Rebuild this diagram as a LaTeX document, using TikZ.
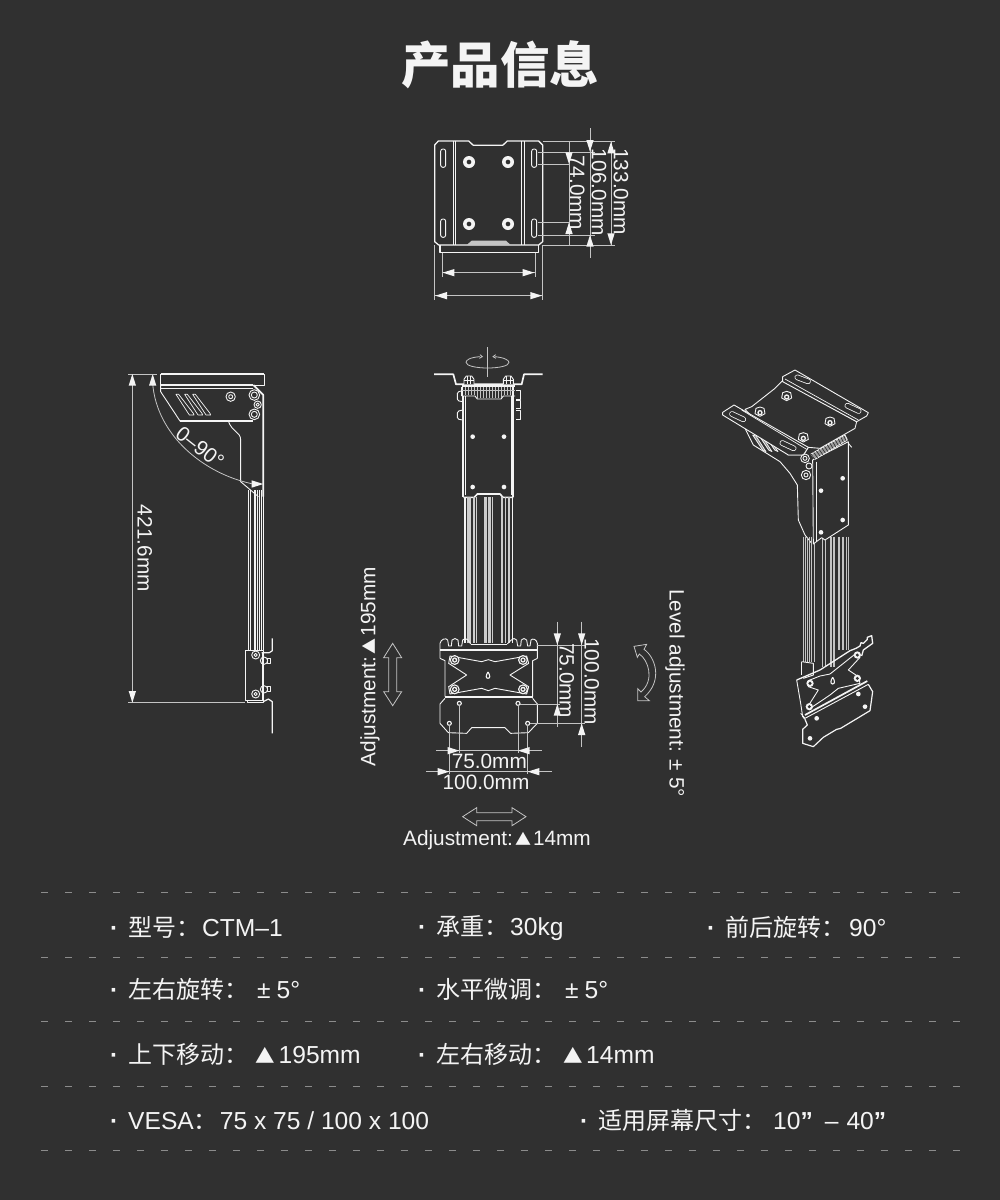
\documentclass[tikz,border=0pt]{standalone}
\usepackage{fontspec}
\setmainfont{Liberation Sans}
\newfontfamily\cjk{Noto Sans CJK SC}
\definecolor{bgc}{HTML}{303030}
\definecolor{wh}{HTML}{F4F4F4}
\definecolor{gr}{HTML}{C4C4C4}
\definecolor{dsh}{HTML}{8C8C8C}
\tikzset{
  ln/.style={draw=wh,line width=.9pt,line join=round},
  thk/.style={draw=wh,line width=1.7pt,line join=round},
  thn/.style={draw=wh,line width=.7pt,line join=round},
  dimln/.style={draw=gr,line width=.8pt},
  outl/.style={draw=gr,line width=.8pt,line join=miter,fill=bgc},
  lab/.style={text=wh,inner sep=0pt,font=\fontsize{20.8}{24}\selectfont},
  spec/.style={text=wh,inner sep=0pt,anchor=base west,font=\fontsize{24.6}{28}\selectfont},
  sepln/.style={draw=dsh,line width=.8pt,dash pattern=on 7.3pt off 16.7pt},
  zm/.style={x=.33333pt,y=-.33333pt}
}
% arrow tips, in zoom units (3 units = 1 px)
\def\ad(#1,#2){\fill[wh] (#1,#2)--++(-11,-35)--++(22,0)--cycle;}
\def\au(#1,#2){\fill[wh] (#1,#2)--++(-11,35)--++(22,0)--cycle;}
\def\al(#1,#2){\fill[wh] (#1,#2)--++(35,-11)--++(0,22)--cycle;}
\def\ar(#1,#2){\fill[wh] (#1,#2)--++(-35,-11)--++(0,22)--cycle;}
\def\hole(#1,#2){\fill[wh] (#1,#2) circle[radius=7];}
\def\slotline(#1)(#2){\draw[wh,line width=5.6pt,line cap=round] (#1)--(#2); \draw[bgc,line width=4pt,line cap=round] (#1)--(#2);}
\newcommand\TRI[1]{{\cjk\fontsize{#1}{#1}\selectfont ▲}}
\newcommand\cj[1]{{\cjk\fontsize{24}{28}\selectfont #1}}
\begin{document}
\begin{tikzpicture}[x=1pt,y=-1pt]
\useasboundingbox (0,0) rectangle (1000,1200);
\fill[bgc] (0,0) rectangle (1000,1200);

\node[text=wh,inner sep=0pt,font=\cjk\bfseries\fontsize{49.5}{54}\selectfont] (title) at (500,65) {产品信息};

%% ---------- top view ----------
\begin{scope}[shift={(420,120)},zm]
 \draw[thk,line width=1.2pt] (60,375)--(60,398)--(355,398)--(355,375);
 \draw[ln,line width=1.3pt] (55,63)--(146,63)--(160,76)--(248,76)--(262,63)--(356,63)--(368,75)--(368,365)--(356,375)--(56,375)--(44,365)--(44,75)--cycle;
 \foreach \x in {100,107,303,313} {\draw[ln] (\x,63)--(\x,375);}
 \foreach \x in {62,335} {\foreach \y in {87,297} {\draw[ln,rounded corners=2.2pt] (\x,\y) rectangle (\x+15,\y+55);}}
 \foreach \x in {147,264} {\foreach \y in {126,312} {\fill[wh] (\x,\y) circle[radius=18]; \fill[bgc] (\x,\y) circle[radius=7];}}
 \fill[gr] (140,375)--(155,362)--(258,362)--(272,375)--cycle;
 % dimensions
 \draw[dimln] (368,63)--(586,63);
 \draw[dimln] (368,375)--(586,375);
 \draw[dimln] (353,97)--(525,97);
 \draw[dimln] (353,132)--(447,132);
 \draw[dimln] (353,307)--(447,307);
 \draw[dimln] (353,345)--(525,345);
 \draw[dimln] (447,63)--(447,375);
 \draw[dimln] (510,25)--(510,415);
 \draw[dimln] (573,63)--(573,375);
 \ad(510,95) \au(510,345)
 \au(573,65) \ad(573,375)
 \ad(447,132) \au(447,307)
 \node[lab,rotate=-90] (d133) at (603,215) {133.0mm};
 \node[lab,rotate=-90] (d106) at (537,217) {106.0mm};
 \node[lab,rotate=-90] (d74) at (472,218) {74.0mm};
 \draw[dimln] (66,398)--(66,470);
 \draw[dimln] (345,398)--(345,470);
 \draw[dimln] (44,375)--(44,540);
 \draw[dimln] (368,375)--(368,540);
 \draw[dimln] (66,458)--(345,458);
 \draw[dimln] (44,527)--(368,527);
 \al(68,458) \ar(343,458)
 \al(46,527) \ar(366,527)
\end{scope}

%% ---------- side view ----------
\begin{scope}[shift={(120,360)},zm]
 \draw[ln] (122,42) rectangle (433,75);
 \draw[thk] (122,43)--(433,43);
 \draw[thk] (122,75)--(400,75);
 \draw[ln] (122,85)--(400,85);
 \draw[ln] (122,75)--(122,95)--(180,183)--(325,183);
 \draw[thk,line width=1.2pt] (180,183)--(400,183);
 \draw[ln] (325,183) .. controls (335,215) and (362,215) .. (362,240)--(362,365)--(415,410);
 \draw[thk] (400,75)--(430,105)--(430,410);
 \foreach \x/\y in {403/105,403/163}{\draw[ln] (\x,\y) circle[radius=16]; \draw[ln] (\x,\y) circle[radius=9];}
 \draw[ln] (413,134) circle[radius=11]; \draw[ln] (413,134) circle[radius=5];
 \draw[ln] (332,110) circle[radius=14]; \draw[ln] (332,110) circle[radius=6];
 \foreach \d in {0,26,50}
   {\draw[thn] (168+\d,103)--(176+\d,103)--(220+\d,160)--(222+\d,165)--(208+\d,165)--cycle;}
 % arc
 \draw[dimln] (98,70) .. controls (110,225) and (250,340) .. (395,371);
 \au(98,42) \ar(430,372)
 \node[lab,rotate=-38] (ang) at (240,262) {0–90°};
 % dim line
 \draw[dimln] (37,42)--(37,1028);
 \draw[dimln] (25,42)--(110,42);
 \au(37,42)
 \node[lab,rotate=-90] (d421) at (74,565) {421.6mm};
 % pole
 \foreach \x in {385,392,405,412,418,425,430} {\draw[ln,line width=1.1pt] (\x,390)--(\x,870);}
\end{scope}
\begin{scope}[shift={(120,620)},zm]
 \draw[dimln] (25,248)--(375,248);
 \ad(37,248)
 \draw[ln,fill=bgc] (376,90) rectangle (430,240);
 \draw[ln] (382,240)--(382,248)--(430,248)--(430,240);
 \draw[thk] (430,95)--(430,240);
 \draw[ln] (407,105) circle[radius=12]; \draw[ln] (407,105) circle[radius=5];
 \draw[ln] (407,222) circle[radius=12]; \draw[ln] (407,222) circle[radius=5];
 \draw[ln,line width=1.2pt] (457,55)--(457,92)--(448,98)--(425,98);
 \draw[ln,line width=1.2pt] (430,245)--(445,237)--(457,245)--(457,340);
 \draw[ln] (432,122) circle[radius=11]; \draw[ln] (432,208) circle[radius=11];
 \draw[ln] (443,115) rectangle (452,130); \draw[ln] (443,200) rectangle (452,215);
\end{scope}

%% ---------- front view, upper ----------
\begin{scope}[shift={(420,340)},zm]
 \draw[dimln] (203,22)--(203,110);
 \draw[dimln] (180,50) .. controls (150,52) and (138,60) .. (138,67) .. controls (138,78) and (170,84) .. (203,84) .. controls (236,84) and (267,78) .. (267,67) .. controls (267,60) and (250,52) .. (224,50);
 \draw[dimln] (180,44)--(187,50)--(178,55);
 \draw[dimln] (227,44)--(219,50)--(228,55);
 \draw[thk] (42,103)--(100,103)--(108,133)--(305,133)--(312,103)--(368,103);
 \foreach \x in {147,265}{
   \draw[ln,fill=bgc] (\x-15,133)--(\x-15,118)--(\x-8,108)--(\x+8,108)--(\x+15,118)--(\x+15,133);
   \draw[thn] (\x-15,120)--(\x+15,120);
   \draw[thn] (\x-5,108)--(\x-5,133); \draw[thn] (\x+5,108)--(\x+5,133);
 }
 \foreach \x/\y/\h in {112/152/33,112/210/30}
   {\draw[ln,rounded corners=1.5pt] (\x+16,\y)--(\x,\y+4)--(\x,\y+\h-3)--(\x+16,\y+\h);}
 \foreach \x/\y/\h in {288/152/26,288/182/24,288/210/28}
   {\draw[ln] (\x,\y)--(\x+14,\y)--(\x+14,\y+\h)--(\x,\y+\h);}
 \draw[thk,line width=2pt] (130,168)--(130,472);
 \draw[thk,line width=2pt] (280,140)--(280,472);
 \draw[thn] (137,168)--(137,465);
 \draw[thn] (273,168)--(273,465);
 \draw[thk,line width=2pt] (125,140)--(125,168);
 \draw[thk] (125,138)--(285,138);
 \draw[ln] (125,168)--(165,168)--(172,177)--(243,177)--(250,168)--(285,168);
 \foreach \x in {135,144,...,275} {\draw[gr,line width=.8pt] (\x,142)--(\x,{\x>165&&\x<250?174:166});}
 \draw[gr,line width=.8pt] (125,150)--(285,150);
 \foreach \x in {158,252} {\foreach \y in {290,441} {\hole(\x,\y)}}
 \draw[wh,line width=1.6pt,line join=round] (130,472)--(163,472)--(172,462)--(240,462)--(249,472)--(280,472);
\end{scope}

%% ---------- front view, pole and head ----------
\begin{scope}[shift={(350,560)},zm]
 \foreach \a/\b in {351/364,369/375,379/382,403/410,414/422,425/430,452/460,465/469,473/480}
   {\fill[wh!80!bgc] (\a,-189) rectangle (\b,250);}
 \draw[thk,line width=1.3pt] (345,-189)--(345,250);
 \draw[thk,line width=1.3pt] (487,-189)--(487,250);
 % head
 \draw[ln] (270,295)--(270,250) .. controls (272,238) and (288,232) .. (293,240) -- (296,258)--(304,258)--(306,240) .. controls (310,234) and (320,234) .. (324,240)--(326,258)--(335,258)--(338,240) .. controls (342,234) and (350,234) .. (354,240)--(362,252);
 \draw[ln] (562,295)--(562,250) .. controls (560,238) and (548,234) .. (543,240) -- (540,258)--(533,258)--(530,240) .. controls (526,234) and (518,234) .. (514,240)--(512,258)--(503,258)--(500,240) .. controls (496,234) and (488,234) .. (484,240)--(472,252);
 \draw[thk,line width=1.5pt] (270,270)--(562,270);
 \draw[ln] (362,252)--(472,252);
 \draw[ln] (270,295)--(285,302)--(285,410);
 \draw[ln] (562,295)--(548,302)--(548,410);
 \draw[thk] (285,412)--(548,412);
 \draw[ln] (300,288)--(395,305)--(415,299)--(435,305)--(530,288)--(536,310)--(480,345)--(536,380)--(530,402)--(435,385)--(415,392)--(395,385)--(300,402)--(296,380)--(350,345)--(296,310)--cycle;
 \draw[ln,line width=1.1pt] (414,336) .. controls (420,345) and (422,355) .. (414,355) .. controls (406,355) and (408,345) .. (414,336);
 \foreach \x in {314,519} {\foreach \y in {300,388}{\fill[wh] (\x,\y) circle[radius=15]; \fill[bgc] (\x,\y) circle[radius=11]; \fill[wh] (\x,\y) circle[radius=8]; \fill[bgc] (\x,\y) circle[radius=4];}}
 \draw[ln] (285,415)--(270,432)--(270,490)--(295,518)--(350,520)--(365,503)--(465,503)--(482,520)--(535,518)--(562,490)--(562,432)--(548,415);
 \foreach \x/\y in {328/430,504/430,298/490,533/490} {\draw[ln,line width=1.1pt] (\x,\y) circle[radius=6];}
 % dimensions
 \draw[dimln] (560,255)--(705,255);
 \draw[dimln] (510,432)--(630,432);
 \draw[dimln] (540,490)--(705,490);
 \draw[dimln] (622,185)--(622,500);
 \draw[dimln] (695,185)--(695,560);
 \ad(622,255) \au(622,432)
 \ad(695,255) \au(695,490)
 \node[lab,rotate=-90] (d75v) at (650,362) {75.0mm};
 \node[lab,rotate=-90] (d100v) at (725,365) {100.0mm};
 \draw[dimln] (328,436)--(328,580);
 \draw[dimln] (504,436)--(504,580);
 \draw[dimln] (298,496)--(298,642);
 \draw[dimln] (533,496)--(533,642);
 \draw[dimln] (258,572)--(575,572);
 \draw[dimln] (228,635)--(605,635);
 \ar(328,572) \al(504,572)
 \ar(298,635) \al(533,635)
 \node[lab] (d75h) at (418,604) {75.0mm};
 \node[lab] (d100h) at (408,668) {100.0mm};
 % adjustment arrows
 \draw[outl] (128,250)--(155,293)--(140,293)--(140,395)--(155,395)--(128,437)--(101,395)--(116,395)--(116,293)--(101,293)--cycle;
 \draw[outl] (338,770)--(380,743)--(380,758)--(486,758)--(486,743)--(528,770)--(486,797)--(486,782)--(380,782)--(380,797)--cycle;
 \node[lab,rotate=90] (adjv) at (60,320) {Adjustment:\hspace{2pt}\TRI{16}\hspace{2pt}195mm};
 \node[lab] (adjh) at (441,840) {Adjustment:\hspace{2pt}\TRI{16}\hspace{2pt}14mm};
\end{scope}

%% ---------- level adjustment ----------
\begin{scope}[shift={(620,580)},zm]
 \draw[outl] (42,199)--(80,193)--(72,208) .. controls (105,230) and (130,300) .. (74,350)--(88,362)--(53,362)--(53,326)--(63,336) .. controls (105,300) and (85,240) .. (58,222)--(52,232)--cycle;
 \node[lab,rotate=-90] (lev) at (165,339) {Level adjustment: ± 5°};
\end{scope}

%% ---------- perspective view, upper ----------
\begin{scope}[shift={(710,360)},zm]
 \draw[ln] (105,205)--(130,255)--(210,305)--(240,340)--(262,375)--(265,480)--(285,525)--(305,550);
 \foreach \d in {0,18,36}
   {\draw[thn,fill=wh!50!bgc] (128+\d,225)--(138+\d,228)--(168+\d,275)--(158+\d,270)--cycle;}
 % pole
 \foreach \x/\w/\e in {280/.8/905,286/.8/905,292/.8/905,298/.8/905,304/.8/905,312/.8/905,338/1.6/920,345/.8/920,362/1.7/920,372/1.7/920,388/1.7/870,398/1.7/870,410/.9/870,416/.9/870}
   {\draw[gr,line width=\w pt] (\x,530)--(\x,\e);}
 % vertical plate
 \draw[ln,fill=bgc] (308,300)--(415,245)--(415,495)--(345,540)--(335,533)--(310,552)--cycle;
 \draw[ln] (318,305)--(318,545);
 \foreach \x/\y in {398/355,333/392,398/480,333/517} {\hole(\x,\y)}
 \draw[ln] (415,250)--(425,262);
 % plate
 \draw[ln,fill=bgc] (105,148)--(125,140)--(195,85)--(218,62)--(440,185)--(435,205)--(330,265)--(295,262)--(280,285)--(235,285)--cycle;
 % upper-right flange
 \draw[ln,fill=bgc] (218,50)--(255,30)--(475,158)--(470,168)--(440,185)--(218,65)--cycle;
 \draw[thn] (225,57)--(445,180);
 % left flange
 \draw[ln,fill=bgc] (38,157)--(72,135)--(295,262)--(280,285)--(235,285)--(38,165)--cycle;
 \draw[thn] (95,150)--(290,268);
 \slotline(66,162)(100,178)
 \slotline(262,52)(294,64)
 \slotline(412,137)(446,153)
 \slotline(217,249)(251,265)
 \foreach \x/\y in {230/108,150/155,360/185,280/232}{
   \draw[ln,fill=bgc] (\x-15,\y+6)--(\x-12,\y-10)--(\x,\y-14)--(\x+12,\y-10)--(\x+15,\y+6)--(\x,\y+14)--cycle;
   \draw[wh,line width=1.3pt] (\x,\y+3) circle[radius=6];
 }
 % hinge
 \draw[ln,fill=wh!55!bgc] (303,282)--(405,225)--(412,240)--(315,298)--cycle;
 \foreach \t in {0,.08,...,1}
   {\draw[bgc,line width=.7pt] ({303+102*\t},{282-57*\t})--({315+97*\t},{298-58*\t});}
 \draw[ln] (285,295) circle[radius=13]; \draw[ln] (285,295) circle[radius=6];
 \draw[ln] (297,318) circle[radius=9];
 \draw[ln] (288,345) circle[radius=14]; \draw[ln] (288,345) circle[radius=6];
\end{scope}

%% ---------- perspective view, lower ----------
\begin{scope}[shift={(780,620)},zm]
 \draw[ln] (65,125)--(100,130)--(100,165)--(70,175);
 \draw[ln] (65,125)--(65,165);
 \draw[ln] (50,180)--(62,250)--(68,290)--(75,298);
 \draw[thk,line width=1.3pt] (50,180)--(120,150)--(210,92)--(228,85)--(240,78)--(243,68)--(250,70)--(262,58)--(262,52)--(275,47)--(278,70)--(250,90)--(245,108);
 \draw[ln,fill=bgc] (85,182)--(120,168)--(150,162)--(228,100)--(240,112)--(205,150)--(235,170)--(240,190)--(175,205)--(150,225)--(95,262)--(82,262)--(115,210)--(85,200)--cycle;
 \draw[ln,line width=1.1pt] (158,172) .. controls (164,180) and (166,192) .. (158,192) .. controls (150,192) and (152,180) .. (158,172);
 \foreach \x/\y in {90/190,232/105,232/175,88/260}{\fill[wh] (\x,\y) circle[radius=11]; \fill[bgc] (\x,\y) circle[radius=5];}
 \draw[thk] (75,285)--(262,183);
 \draw[ln] (75,295)--(265,193);
 \draw[ln] (62,280)--(75,295);
 \draw[thk,line width=1.2pt] (75,298)--(82,315)--(68,328)--(68,370)--(100,380)--(130,352)--(170,328)--(182,325)--(270,272)--(278,215)--(265,193);
 \foreach \x/\y in {110/295,235/222,90/355,255/260} {\hole(\x,\y)}
\end{scope}

%% ---------- separators ----------
\foreach \y in {892.3,957,1021,1086.7,1150.7} {\draw[sepln] (41,\y)--(960,\y);}

%% ---------- specification rows ----------
\newcommand\dotbox{\makebox[18pt][l]{\textbf{·}}}
\node[spec] (s11) at (110,936) {\dotbox\cj{型号：}\hspace{2pt}CTM–1};
\node[spec] (s12) at (418,935) {\dotbox\cj{承重：}\hspace{2pt}30kg};
\node[spec] (s13) at (707,936) {\dotbox\cj{前后旋转：}\hspace{4pt}90°};
\node[spec] (s21) at (110,998) {\dotbox\cj{左右旋转：}\hspace{9pt}±\hspace{6pt}5°};
\node[spec] (s22) at (418,998) {\dotbox\cj{水平微调：}\hspace{9pt}±\hspace{6pt}5°};
\node[spec] (s31) at (110,1063) {\dotbox\cj{上下移动：}\hspace{7pt}\TRI{19.5}\hspace{4pt}195mm};
\node[spec] (s32) at (418,1063) {\dotbox\cj{左右移动：}\hspace{7pt}\TRI{19.5}\hspace{3.5pt}14mm};
\node[spec] (s41) at (110,1129) {\dotbox VESA\cj{：}\hspace{2pt}75 x 75 / 100 x 100};
\node[spec] (s42) at (580,1129) {\dotbox\cj{适用屏幕尺寸：}\hspace{7pt}10\textbf{”}\hspace{12pt}–\hspace{8pt}40\textbf{”}};
\end{tikzpicture}
\end{document}
